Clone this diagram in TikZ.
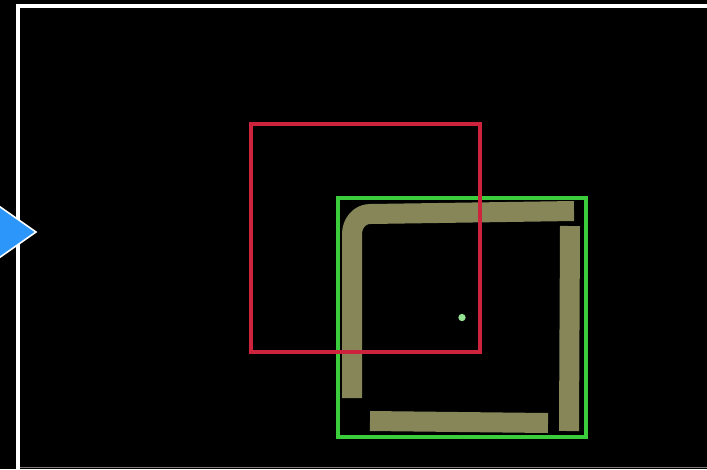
\documentclass[tikz,border=0pt]{standalone}
\usetikzlibrary{positioning}
\definecolor{boxred}{RGB}{205,35,60}
\definecolor{boxgreen}{RGB}{60,205,60}
\definecolor{strokeolive}{RGB}{135,134,88}
\definecolor{ptrblue}{RGB}{45,150,250}
\tikzset{
  predbox/.style={draw=boxred,line width=2.6pt,inner sep=0pt},
  gtbox/.style={draw=boxgreen,line width=2.6pt,inner sep=0pt},
  brush/.style={draw=strokeolive,line width=15pt,line join=round},
  ctr/.style={circle,fill=boxgreen!55!white,inner sep=0pt,minimum size=5.5pt},
  frame/.style={draw=white,line width=3pt},
  ptr/.style={fill=ptrblue,draw=white,line width=1.2pt}
}
\begin{document}
\begin{tikzpicture}[x=0.75pt,y=-0.75pt]
\fill[black] (0,0) rectangle (707,469);
\useasboundingbox (0,0) rectangle (707,469);
% screen frame
\draw[frame] (18,469) -- (18,6) -- (707,6);
\draw[gray,line width=0.8pt] (20,467.5) -- (707,467.5);
% pointer
\draw[ptr] (36,232) -- (-24,190) -- (-24,274) -- cycle;
% hand drawn square
\draw[brush] (352,398) -- (352,234) to[out=90,in=180] (370,214) -- (574,211);
\draw[brush] (570,226) -- (569,431);
\draw[brush] (370,421) -- (548,423);
% boxes
\node[gtbox,minimum width=186pt,minimum height=179.25pt] (gt) at (462,317.5) {};
\node[ctr] (gtc) at (gt.center) {};
\node[predbox,minimum width=171.75pt,minimum height=171pt] (pred) at (365.5,238) {};
\end{tikzpicture}
\end{document}
